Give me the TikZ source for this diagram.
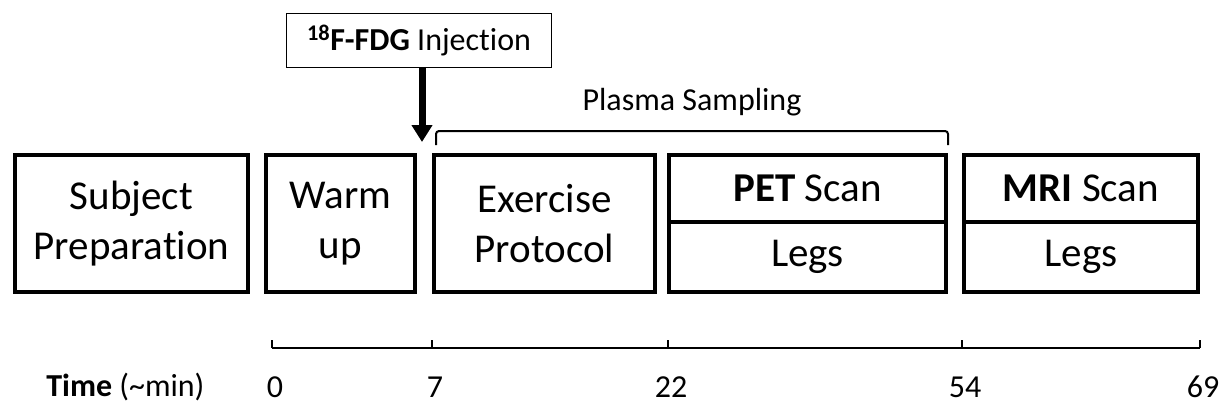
\documentclass[tikz,border=0pt]{standalone}
\usepackage{fontspec}
\setmainfont[RawFeature={-liga,-dlig,-calt,-clig}]{Carlito}
\usetikzlibrary{positioning, calc, arrows.meta}

\begin{document}
\begin{tikzpicture}[x=1pt, y=-1pt,
    stage/.style={draw, line width=4pt, align=center, inner sep=0pt, outer sep=0pt,
      font=\fontsize{41}{50}\selectfont},
    label/.style={font=\fontsize{32}{38}\selectfont},
    axis/.style={line width=2pt}]
  \useasboundingbox (0,0) rectangle (1224,410);

  \node[stage, minimum width=233pt, minimum height=137pt] (prep) at (131.5,223.5) {Subject\\Preparation};
  \node[stage, minimum width=149pt, minimum height=137pt] (warm) at (340.5,223.5) {Warm\\up};
  \node[stage, minimum width=221pt, minimum height=137pt] (ex) at (544.5,223.5) {Exercise\\Protocol};
  \node[stage, minimum width=277pt, minimum height=67pt] (pet) at (807.5,188.5) {\textbf{PET} Scan};
  \node[stage, minimum width=277pt, minimum height=70pt, below=0pt of pet] (petlegs) {Legs};
  \node[stage, minimum width=234pt, minimum height=67pt] (mri) at (1081,188.5) {\textbf{MRI} Scan};
  \node[stage, minimum width=234pt, minimum height=70pt, below=0pt of mri] (mrilegs) {Legs};

  \node[draw, line width=1.5pt, label, minimum width=265pt, minimum height=54pt, inner sep=0pt] (inj) at (419,40.5)
    {\textsuperscript{\textbf{18}}\textbf{F-FDG} Injection};
  \coordinate (tip) at (422,142);
  \draw[line width=7pt, -{Triangle[length=17pt, width=20pt]}] (inj.south -| tip) -- (tip);

  \node[label] (plasma) at (692,102) {Plasma Sampling};
  \coordinate (ps1) at (436,145);
  \coordinate (ps2) at (948,145);
  \draw[axis, rounded corners=3pt] (ps1) -- ++(0,-14) -| (ps2);

  \node[label, anchor=east] (time) at (208,387) {\textbf{Time} (\char`\~min)};
  \coordinate (t0) at (272,348);
  \coordinate (t69) at (1200,348);
  \draw[axis] (t0) -- (t69);
  \foreach \x/\t in {272/0, 432/7, 668/22, 962/54, 1200/69} {
    \draw[axis] (\x,348) -- ++(0,-8);
    \node[label] (m\t) at (\x+3,387) {\t};
  }
\end{tikzpicture}
\end{document}
